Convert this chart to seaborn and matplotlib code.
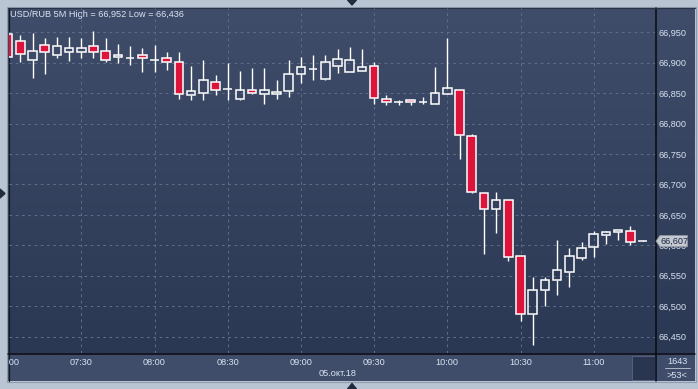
import numpy as np
import pandas as pd
import matplotlib
matplotlib.use("Agg")
import matplotlib.pyplot as plt
import matplotlib.transforms as mtransforms
from matplotlib.patches import Rectangle, Polygon
import seaborn as sns

# ---------------- data ----------------
times = pd.date_range("2018-10-05 07:00", periods=53, freq="5min")
opens = [66.948, 66.935, 66.904, 66.929, 66.912, 66.917, 66.917, 66.927, 66.919, 66.909,
         66.907, 66.912, 66.904, 66.907, 66.901, 66.847, 66.851, 66.868, 66.857, 66.841,
         66.855, 66.848, 66.849, 66.853, 66.881, 66.889, 66.874, 66.894, 66.884, 66.886,
         66.894, 66.840, 66.835, 66.838, 66.835, 66.833, 66.848, 66.856, 66.779, 66.686,
         66.659, 66.674, 66.582, 66.488, 66.526, 66.543, 66.557, 66.580, 66.597, 66.617,
         66.622, 66.623, 66.607]
highs = [66.950, 66.946, 66.949, 66.941, 66.942, 66.942, 66.940, 66.952, 66.940, 66.931,
         66.928, 66.925, 66.929, 66.918, 66.918, 66.895, 66.905, 66.880, 66.899, 66.886,
         66.891, 66.891, 66.872, 66.905, 66.909, 66.913, 66.913, 66.923, 66.926, 66.923,
         66.901, 66.847, 66.838, 66.838, 66.843, 66.893, 66.941, 66.856, 66.783, 66.686,
         66.688, 66.674, 66.582, 66.548, 66.548, 66.609, 66.596, 66.605, 66.623, 66.623,
         66.626, 66.631, 66.608]
lows = [66.909, 66.902, 66.875, 66.881, 66.907, 66.903, 66.907, 66.907, 66.902, 66.899,
        66.897, 66.884, 66.885, 66.888, 66.840, 66.839, 66.839, 66.847, 66.838, 66.838,
        66.848, 66.833, 66.841, 66.843, 66.867, 66.872, 66.871, 66.883, 66.884, 66.886,
        66.832, 66.830, 66.830, 66.830, 66.832, 66.833, 66.848, 66.742, 66.686, 66.586,
        66.620, 66.575, 66.475, 66.436, 66.501, 66.519, 66.531, 66.576, 66.581, 66.603,
        66.609, 66.600, 66.607]
closes = [66.910, 66.914, 66.920, 66.917, 66.927, 66.925, 66.925, 66.917, 66.904, 66.912,
          66.908, 66.907, 66.905, 66.902, 66.848, 66.853, 66.871, 66.856, 66.857, 66.856,
          66.850, 66.855, 66.852, 66.881, 66.893, 66.889, 66.901, 66.906, 66.904, 66.893,
          66.842, 66.835, 66.835, 66.835, 66.835, 66.850, 66.858, 66.781, 66.687, 66.660,
          66.674, 66.581, 66.488, 66.526, 66.543, 66.559, 66.582, 66.595, 66.618, 66.622,
          66.625, 66.605, 66.607]
yticks = [66.450, 66.500, 66.550, 66.600, 66.650, 66.700, 66.750, 66.800, 66.850, 66.900, 66.950]
xtick_labels = ["07:00", "07:30", "08:00", "08:30", "09:00", "09:30", "10:00", "10:30", "11:00"]
title = "USD/RUB 5M High = 66,952 Low = 66,436"
date_label = "05.окт.18"
last_price = 66.607

# ---------------- style ----------------
sns.set_style("dark")
plt.rcParams["font.family"] = ["Liberation Sans", "DejaVu Sans"]
TXT = "#D8E2F0"
RED = "#DC143C"

fig = plt.figure(figsize=(6.98, 3.89), dpi=100)
fig.patch.set_facecolor("#BAC5D4")

# background drawing layer in pixel coordinates
bg = fig.add_axes([0, 0, 1, 1])
bg.set_xlim(0, 698)
bg.set_ylim(389, 0)
bg.axis("off")
c_top = np.array([63, 77, 106]) / 255
c_bot = np.array([43, 56, 84]) / 255
t = np.linspace(0, 1, 200)[:, None, None]
grad = c_top[None, None, :] * (1 - t) + c_bot[None, None, :] * t
bg.imshow(grad, extent=[8, 695, 353, 8], aspect="auto", zorder=0, interpolation="bilinear")
bg.add_patch(Rectangle((8, 353), 687, 28, facecolor="#3F4D6A", edgecolor="none", zorder=1))
bg.add_patch(Rectangle((632, 355.5), 23, 24.5, facecolor="#2A3550", edgecolor="#56627A", lw=0.7, zorder=2))
bg.add_patch(Rectangle((7, 7), 688.5, 375, facecolor="none", edgecolor="#8F9BAE", lw=0.8, zorder=3))
bg.plot([8, 695], [353.5, 353.5], color="#0A0A10", lw=1.1, zorder=4)
bg.plot([655.5, 655.5], [8, 381], color="#0A0A10", lw=1.1, zorder=4)
bg.plot([8.5, 8.5], [8, 381], color="#14181F", lw=0.9, zorder=4)
bg.plot([8, 695], [8.3, 8.3], color="#2A3346", lw=0.8, zorder=4)
# small arrows
arrow_c = "#222B3D"
bg.add_patch(Polygon([[347.5, 0], [356.5, 0], [352, 5]], closed=True, color=arrow_c, zorder=5))
bg.add_patch(Polygon([[347.5, 389], [356.5, 389], [352, 383.5]], closed=True, color=arrow_c, zorder=5))
bg.add_patch(Polygon([[0, 189], [0, 198], [5, 193.5]], closed=True, color=arrow_c, zorder=5))

bg.text(10, 14.5, title, color=TXT, fontsize=6.6, va="center", ha="left", zorder=6)
bg.text(338, 373.8, date_label, color=TXT, fontsize=6.6, va="center", ha="center", zorder=6)
bg.text(677, 361.5, "1643", color=TXT, fontsize=6.6, va="center", ha="center", zorder=6)
bg.plot([665, 690], [368.3, 368.3], color="#AEB8C8", lw=0.7, zorder=6)
bg.text(677, 375, ">53<", color=TXT, fontsize=6.6, va="center", ha="center", zorder=6)

# ---------------- main candlestick axes ----------------
L, R, T, B = 9, 655, 8, 353
ax = fig.add_axes([L / 698, (389 - B) / 389, (R - L) / 698, (B - T) / 389])
ax.set_facecolor("none")
for s in ax.spines.values():
    s.set_visible(False)

minutes = np.asarray((times - times[0]).total_seconds() / 60.0)
px_per_min = 2.44
x0_px = 8.1
ax.set_xlim((L - x0_px) / px_per_min, (R - x0_px) / px_per_min)
ax.set_ylim(66.4232, 66.9899)

o = np.array(opens); h = np.array(highs); l = np.array(lows); c = np.array(closes)
top = np.maximum(o, c); bot = np.minimum(o, c)
up = c >= o

# grid
grid_kw = dict(color="#5D6C89", lw=0.75, ls=(0, (2.6, 3.4)), zorder=1)
for v in yticks:
    ax.axhline(v, **grid_kw)
xtick_min = [30 * i for i in range(len(xtick_labels))]
for m in xtick_min[1:]:
    ax.axvline(m, **grid_kw)

# wicks (split so hollow bodies stay hollow)
ax.vlines(minutes, top, h, color="white", lw=1.0, zorder=3)
ax.vlines(minutes, l, bot, color="white", lw=1.0, zorder=3)
# bodies
bw = 3.55
ax.bar(minutes[~up], (top - bot)[~up], bottom=bot[~up], width=bw, color=RED,
       edgecolor="white", linewidth=1.1, zorder=4)
ax.bar(minutes[up], np.maximum((top - bot)[up], 0.0002), bottom=bot[up], width=bw,
       facecolor="none", edgecolor="white", linewidth=1.1, zorder=4)

ax.set_xticks([])
ax.yaxis.tick_right()
ax.set_yticks(yticks)
ax.set_yticklabels([f"{v:.3f}".replace(".", ",") for v in yticks], color=TXT, fontsize=6.6)
ax.tick_params(axis="y", length=0, pad=2.3)

# current price marker
trans = mtransforms.blended_transform_factory(bg.transData, ax.transData)
hh = 0.0093
ax.add_patch(Polygon([[656, last_price], [660, last_price + hh], [687.5, last_price + hh],
                      [687.5, last_price - hh], [660, last_price - hh]], closed=True,
                     transform=trans, facecolor="#C4C8D0", edgecolor="#8C929E", lw=0.6,
                     clip_on=False, zorder=10))
ax.text(660.5, last_price, f"{last_price:.3f}".replace(".", ","), transform=trans,
        color="#1A2744", fontsize=6.6, va="center", ha="left", clip_on=False, zorder=11)

# ---------------- time axis strip ----------------
ax2 = fig.add_axes([L / 698, (389 - 380) / 389, (632 - L) / 698, (380 - 354) / 389])
ax2.set_facecolor("none")
ax2.axis("off")
ax2.set_xlim((L - x0_px) / px_per_min, (632 - x0_px) / px_per_min)
ax2.set_ylim(380, 354)
for m, lab in zip(xtick_min, xtick_labels):
    ax2.text(m, 362.7, lab, color=TXT, fontsize=6.6, ha="center", va="center", clip_on=True)

fig.savefig("out.png", dpi=100, facecolor=fig.get_facecolor())
